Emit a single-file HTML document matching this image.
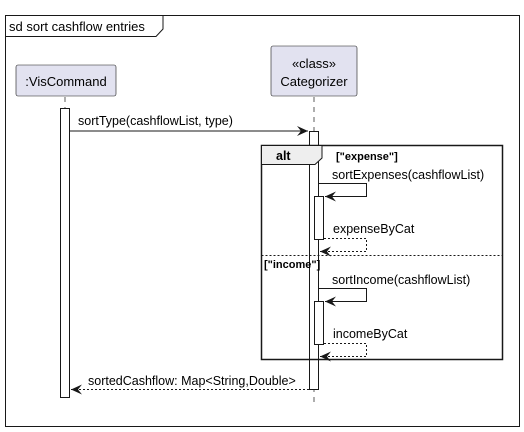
<!DOCTYPE html>
<html><head><style>
html,body{margin:0;padding:0;background:#fff;}
svg{display:block;font-family:"Liberation Sans",sans-serif;}
</style></head><body>
<svg width="524" height="432" viewBox="0 0 524 432" xmlns="http://www.w3.org/2000/svg">
<defs>
<marker id="a" markerWidth="12" markerHeight="10" refX="11" refY="5" orient="auto" markerUnits="userSpaceOnUse">
<path d="M0,0 L11,5 L0,10 L4,5 Z" fill="#181818"/>
</marker>
</defs>
<rect x="5.5" y="15.5" width="514" height="411" fill="#fff" stroke="#181818" stroke-width="1"/>
<path d="M5.5,36.5 H156 L163,29 V15.5" fill="none" stroke="#181818"/>
<text x="9" y="31" font-size="13" fill="#000">sd sort cashflow entries</text>

<line x1="65" y1="97" x2="65" y2="108" stroke="#181818" stroke-dasharray="5,5" stroke-width="0.7"/>
<line x1="314" y1="97" x2="314" y2="405" stroke="#181818" stroke-dasharray="5,5" stroke-width="0.7"/>

<rect x="16" y="65" width="100" height="31" rx="2" fill="#e2e2f0" stroke="#181818" stroke-width="0.6"/>
<text x="66" y="86" font-size="13" text-anchor="middle">:VisCommand</text>
<rect x="271" y="46" width="86" height="50" rx="2" fill="#e2e2f0" stroke="#181818" stroke-width="0.6"/>
<text x="314" y="68" font-size="13" text-anchor="middle">«class»</text>
<text x="314" y="86" font-size="13" text-anchor="middle">Categorizer</text>

<rect x="60.5" y="108.5" width="9" height="289" fill="#fff" stroke="#181818"/>
<rect x="309.5" y="131.5" width="9" height="258" fill="#fff" stroke="#181818"/>

<line x1="70" y1="131" x2="308" y2="131" stroke="#181818" marker-end="url(#a)"/>
<text x="78" y="125" font-size="12.5">sortType(cashflowList, type)</text>

<rect x="261.5" y="145.5" width="241" height="214" fill="none" stroke="#181818" stroke-width="1.5"/>
<path d="M261.5,145.5 H322 V158 L315,164.5 H261.5 Z" fill="#eee" stroke="#181818"/>
<text x="276" y="160" font-size="12.5" font-weight="bold">alt</text>
<text x="336" y="160" font-size="11" font-weight="bold">["expense"]</text>
<line x1="261.5" y1="255.5" x2="502.5" y2="255.5" stroke="#181818" stroke-dasharray="2,2"/>
<text x="264" y="268" font-size="11" font-weight="bold">["income"]</text>

<text x="332" y="179" font-size="12.5">sortExpenses(cashflowList)</text>
<polyline points="319,183.5 366.5,183.5 366.5,196.5 325,196.5" fill="none" stroke="#181818" marker-end="url(#a)"/>
<rect x="314.5" y="196.5" width="9" height="43" fill="#fff" stroke="#181818"/>
<text x="333" y="233" font-size="12.5">expenseByCat</text>
<polyline points="324,238.5 366.5,238.5 366.5,251.5 320,251.5" fill="none" stroke="#181818" stroke-dasharray="2,2" marker-end="url(#a)"/>

<text x="332" y="284" font-size="12.5">sortIncome(cashflowList)</text>
<polyline points="319,288.5 366.5,288.5 366.5,301.5 325,301.5" fill="none" stroke="#181818" marker-end="url(#a)"/>
<rect x="314.5" y="301.5" width="9" height="43" fill="#fff" stroke="#181818"/>
<text x="333" y="338" font-size="12.5">incomeByCat</text>
<polyline points="324,343.5 366.5,343.5 366.5,356.5 320,356.5" fill="none" stroke="#181818" stroke-dasharray="2,2" marker-end="url(#a)"/>

<line x1="309" y1="389.5" x2="71" y2="389.5" stroke="#181818" stroke-dasharray="2,2" marker-end="url(#a)"/>
<text x="88" y="385" font-size="12.5">sortedCashflow: Map&lt;String,Double&gt;</text>
</svg>
</body></html>
